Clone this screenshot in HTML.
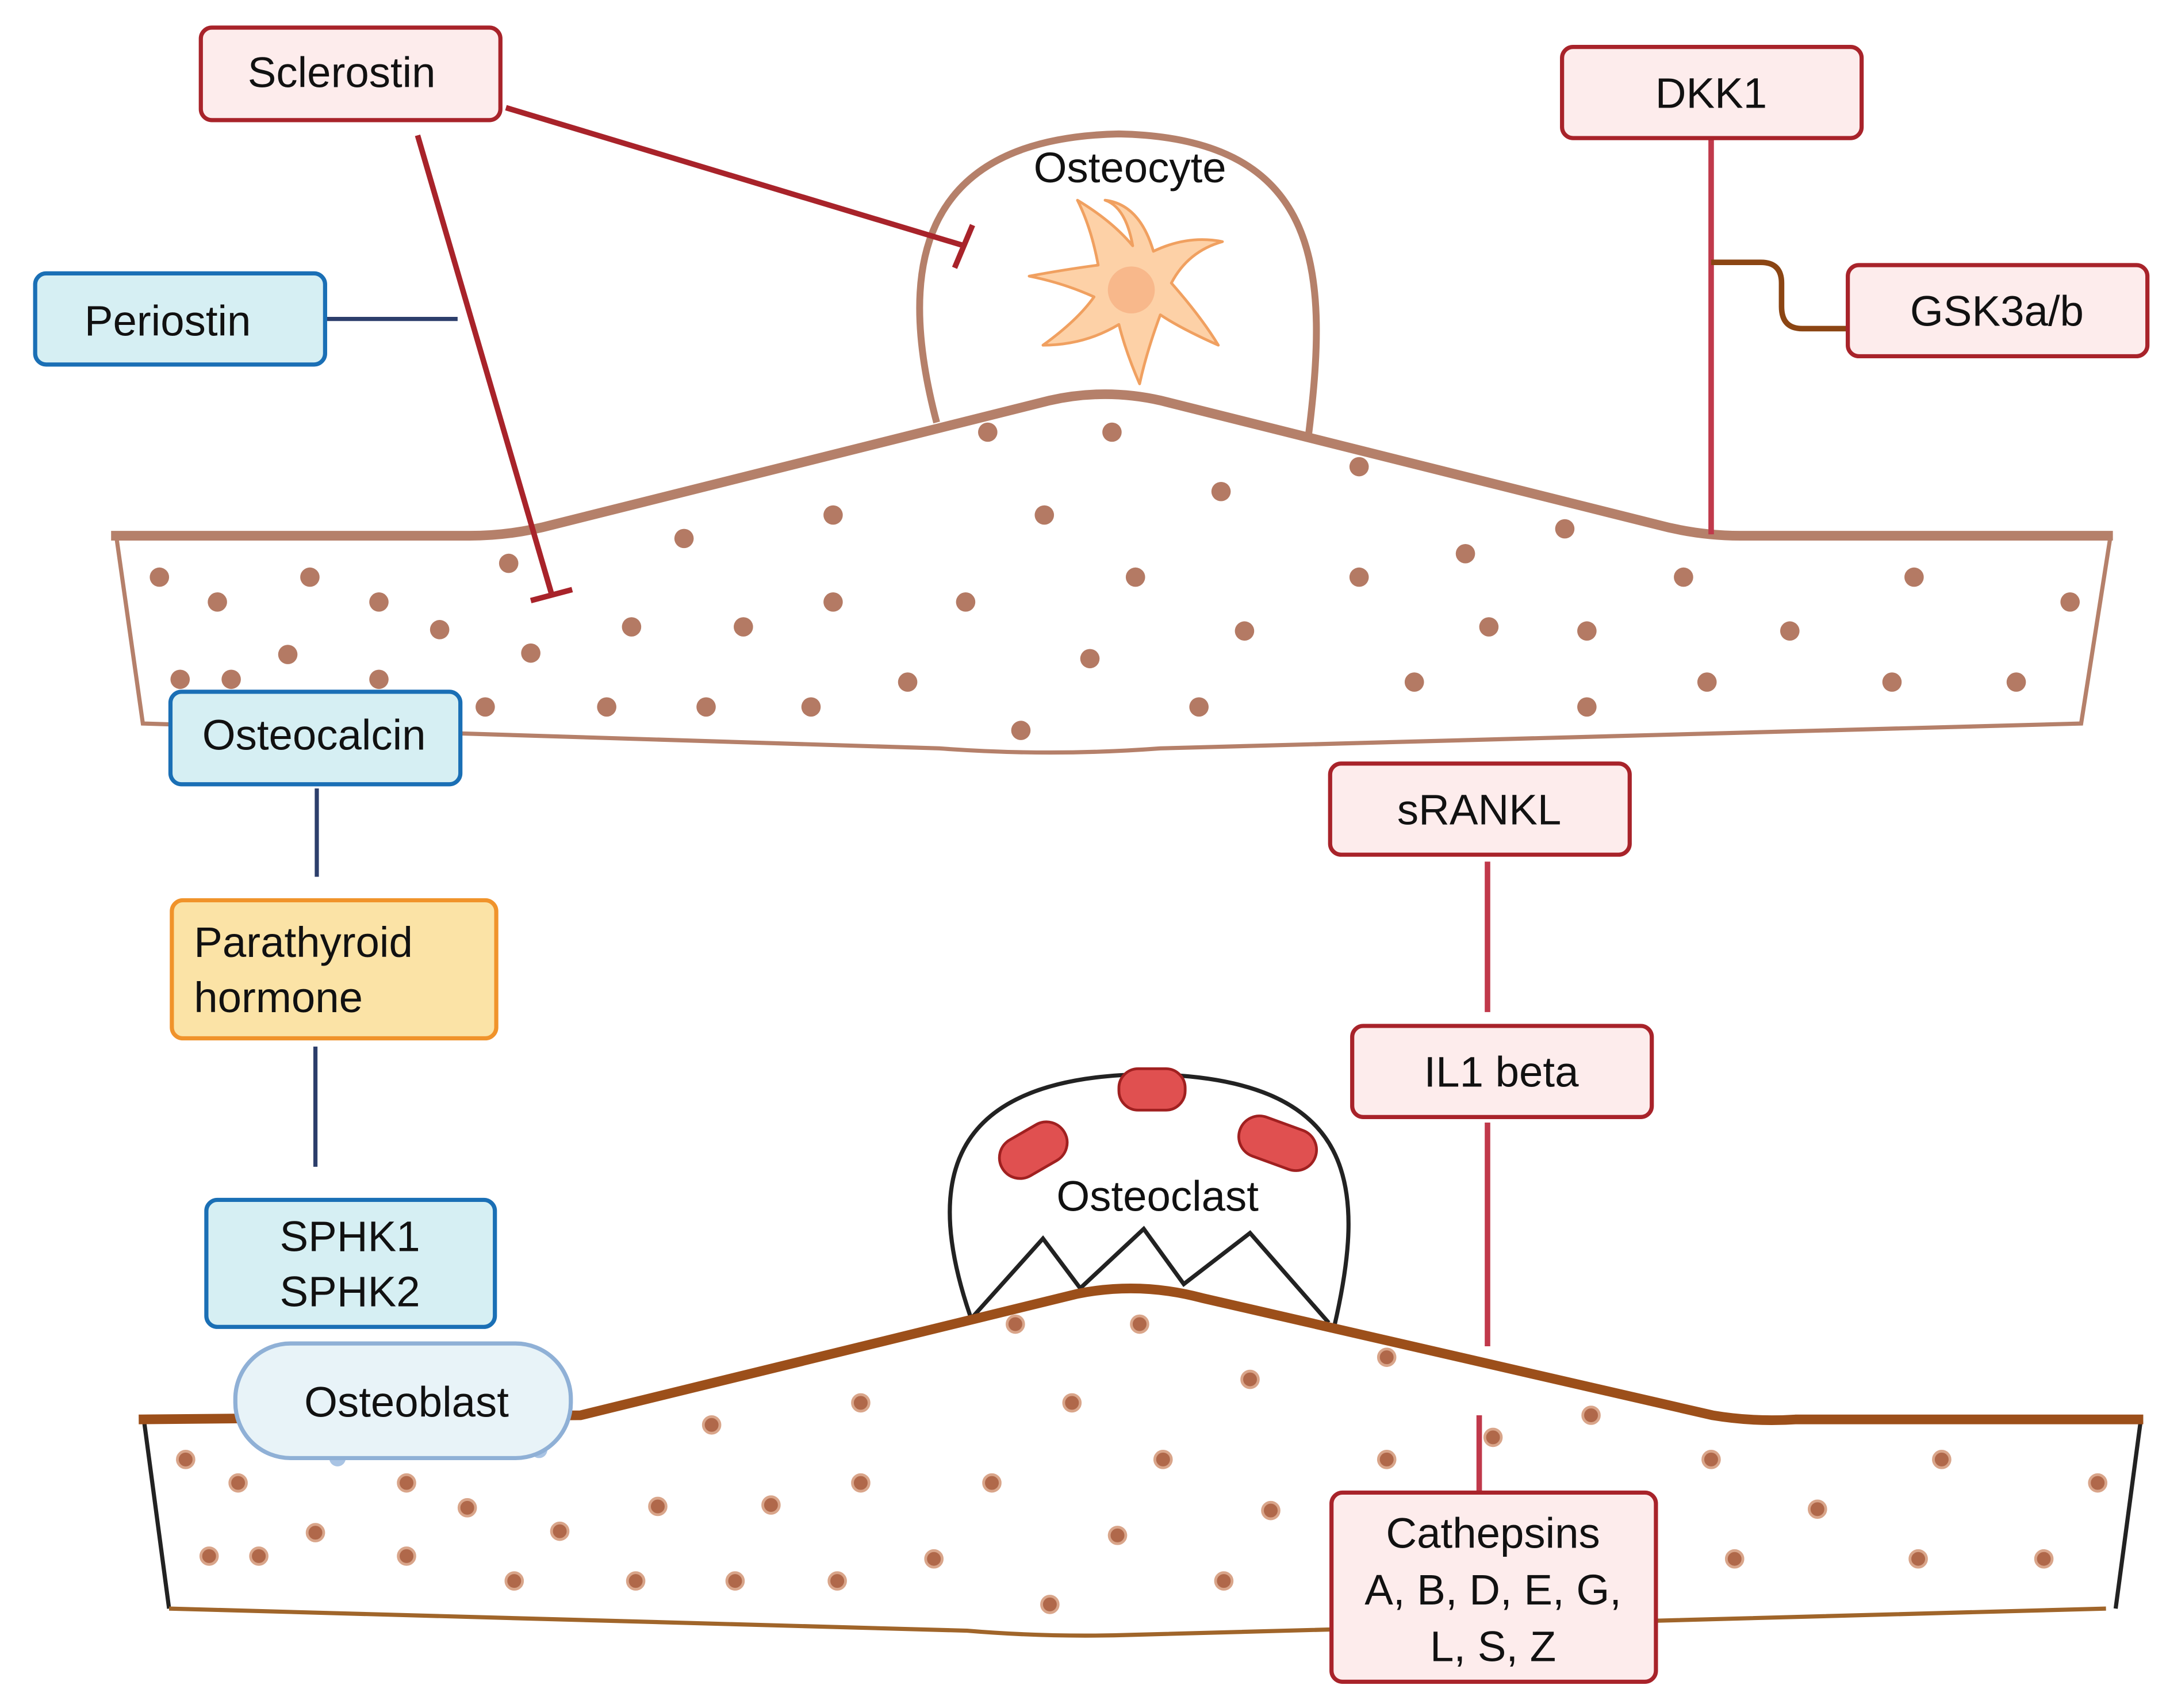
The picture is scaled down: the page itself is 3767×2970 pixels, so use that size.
<!DOCTYPE html>
<html><head><meta charset="utf-8"><style>
html,body{margin:0;padding:0;background:#fff;}
svg{display:block;}
text{font-family:"Liberation Sans",sans-serif;font-size:31px;fill:#111;}
</style></head><body>
<svg width="3767" height="2970" viewBox="0 0 1568 1237" xmlns="http://www.w3.org/2000/svg">
<rect width="1568" height="1237" fill="#fff"/>
<!-- Top bone -->
<path d="M84,390 L103,524 L680,542 Q760,548 840,542 L1507,524 L1528,390" fill="none" stroke="#b5806a" stroke-width="3"/>
<path d="M678,306 C650,200 660,100 810,97 C960,100 962,200 947,318" fill="#fff" stroke="#b5806a" stroke-width="5"/>
<path d="M80,388 L340,388 Q370,388 400,380 L760,290 Q800,281 840,290 L1200,380 Q1230,388 1260,388 L1530,388" fill="none" stroke="#b5806a" stroke-width="7"/>
<g fill="#b47a64">
<circle cx="115" cy="418" r="7"/><circle cx="157" cy="436" r="7"/><circle cx="224" cy="418" r="7"/><circle cx="274" cy="436" r="7"/><circle cx="318" cy="456" r="7"/><circle cx="368" cy="408" r="7"/><circle cx="384" cy="473" r="7"/><circle cx="130" cy="492" r="7"/><circle cx="167" cy="492" r="7"/><circle cx="208" cy="474" r="7"/><circle cx="274" cy="492" r="7"/><circle cx="351" cy="512" r="7"/><circle cx="439" cy="512" r="7"/><circle cx="511" cy="512" r="7"/><circle cx="587" cy="512" r="7"/><circle cx="457" cy="454" r="7"/><circle cx="538" cy="454" r="7"/><circle cx="603" cy="436" r="7"/><circle cx="603" cy="373" r="7"/><circle cx="495" cy="390" r="7"/><circle cx="657" cy="494" r="7"/><circle cx="699" cy="436" r="7"/><circle cx="715" cy="313" r="7"/><circle cx="805" cy="313" r="7"/><circle cx="756" cy="373" r="7"/><circle cx="822" cy="418" r="7"/><circle cx="789" cy="477" r="7"/><circle cx="739" cy="529" r="7"/><circle cx="868" cy="512" r="7"/><circle cx="884" cy="356" r="7"/><circle cx="901" cy="457" r="7"/><circle cx="984" cy="338" r="7"/><circle cx="984" cy="418" r="7"/><circle cx="1061" cy="401" r="7"/><circle cx="1024" cy="494" r="7"/><circle cx="1078" cy="454" r="7"/><circle cx="1133" cy="383" r="7"/><circle cx="1149" cy="457" r="7"/><circle cx="1149" cy="512" r="7"/><circle cx="1219" cy="418" r="7"/><circle cx="1236" cy="494" r="7"/><circle cx="1296" cy="457" r="7"/><circle cx="1370" cy="494" r="7"/><circle cx="1386" cy="418" r="7"/><circle cx="1460" cy="494" r="7"/><circle cx="1499" cy="436" r="7"/>
</g>
<!-- osteocyte cell -->
<path d="M820,178 Q815,150 800,145 Q825,148 835,182 Q860,170 885,175 Q860,182 848,205 Q870,230 882,250 Q855,238 840,228 Q830,255 825,278 Q815,255 810,235 Q785,250 755,250 Q780,232 792,215 Q770,205 745,200 Q772,195 795,192 Q790,165 780,145 Q805,160 820,178 Z" fill="#fdd1a7" stroke="#f0a060" stroke-width="2" stroke-linejoin="round"/>
<circle cx="819" cy="210" r="17" fill="#f8b88b"/>
<text x="818" y="132" text-anchor="middle">Osteocyte</text>

<!-- Bottom bone -->
<path d="M104,1030 L122,1165" stroke="#222" stroke-width="3"/>
<path d="M1550,1030 L1532,1165" stroke="#222" stroke-width="3"/>
<path d="M122,1165 L700,1181 Q760,1186 820,1184 L1525,1165" fill="none" stroke="#a0652a" stroke-width="3"/>
<path d="M703,955 C670,860 680,780 830,778 C985,780 990,860 965,965" fill="#fff" stroke="#222" stroke-width="3"/>
<path d="M703,955 L755,897 L782,933 L828,890 L857,930 L905,893 L962,958" fill="none" stroke="#222" stroke-width="3"/>
<rect x="810" y="774" width="48" height="30" rx="14" fill="#e05050" stroke="#a02020" stroke-width="2"/>
<rect x="722" y="818" width="52" height="30" rx="15" fill="#e05050" stroke="#a02020" stroke-width="2" transform="rotate(-30 748 833)"/>
<rect x="896" y="813" width="58" height="30" rx="15" fill="#e05050" stroke="#a02020" stroke-width="2" transform="rotate(20 925 828)"/>
<text x="838" y="877" text-anchor="middle">Osteoclast</text>
<path d="M100,1028 L420,1025 L780,937 Q825,928 870,940 L1240,1025 Q1270,1030 1300,1028 L1552,1028" fill="none" stroke="#9c4f1a" stroke-width="7"/>
<g fill="#b0684a" stroke="#d9a58a" stroke-width="2">
<circle cx="134" cy="1057" r="6"/><circle cx="172" cy="1074" r="6"/><circle cx="151" cy="1127" r="6"/><circle cx="187" cy="1127" r="6"/><circle cx="228" cy="1110" r="6"/><circle cx="294" cy="1074" r="6"/><circle cx="294" cy="1127" r="6"/><circle cx="338" cy="1092" r="6"/><circle cx="372" cy="1145" r="6"/><circle cx="405" cy="1109" r="6"/><circle cx="460" cy="1145" r="6"/><circle cx="476" cy="1091" r="6"/><circle cx="515" cy="1032" r="6"/><circle cx="532" cy="1145" r="6"/><circle cx="558" cy="1090" r="6"/><circle cx="606" cy="1145" r="6"/><circle cx="623" cy="1074" r="6"/><circle cx="623" cy="1016" r="6"/><circle cx="676" cy="1129" r="6"/><circle cx="718" cy="1074" r="6"/><circle cx="735" cy="959" r="6"/><circle cx="760" cy="1162" r="6"/><circle cx="776" cy="1016" r="6"/><circle cx="809" cy="1112" r="6"/><circle cx="825" cy="959" r="6"/><circle cx="842" cy="1057" r="6"/><circle cx="886" cy="1145" r="6"/><circle cx="905" cy="999" r="6"/><circle cx="920" cy="1094" r="6"/><circle cx="1004" cy="983" r="6"/><circle cx="1004" cy="1057" r="6"/><circle cx="1081" cy="1041" r="6"/><circle cx="1152" cy="1025" r="6"/><circle cx="1239" cy="1057" r="6"/><circle cx="1256" cy="1129" r="6"/><circle cx="1316" cy="1093" r="6"/><circle cx="1389" cy="1129" r="6"/><circle cx="1406" cy="1057" r="6"/><circle cx="1480" cy="1129" r="6"/><circle cx="1519" cy="1074" r="6"/>
</g>
<!-- osteoblast -->
<circle cx="244" cy="1056" r="6" fill="#a9c4e4"/><circle cx="390" cy="1050" r="6" fill="#a9c4e4"/>
<rect x="170" y="973" width="243" height="83" rx="40" fill="#e8f3f8" stroke="#8fb0d6" stroke-width="3"/>
<text x="294" y="1026" text-anchor="middle">Osteoblast</text>

<!-- connectors -->
<g stroke="#a8232a" stroke-width="4" fill="none">
<path d="M366,78 L698,178"/><path d="M691,194 L704,163"/>
<path d="M302,98 L399,430"/><path d="M384,435 L414,427"/>
</g>
<g stroke="#2c3e6b" stroke-width="3">
<path d="M235,231 L331,231"/><path d="M229,571 L229,635"/><path d="M228,758 L228,845"/>
</g>
<g stroke="#c0394b" stroke-width="4" fill="none">
<path d="M1239,100 L1239,387"/>
<path d="M1077,624 L1077,733"/><path d="M1077,813 L1077,975"/><path d="M1071,1025 L1071,1081"/>
</g>
<path d="M1239,190 L1275,190 Q1290,190 1290,205 L1290,222 Q1290,238 1305,238 L1338,238" fill="none" stroke="#8b4513" stroke-width="4"/>

<!-- boxes -->
<g stroke-width="3">
<rect x="145" y="20" width="217" height="67" rx="8" fill="#fdecec" stroke="#a8232a"/>
<rect x="1131" y="34" width="217" height="66" rx="8" fill="#fdecec" stroke="#a8232a"/>
<rect x="1338" y="192" width="217" height="66" rx="8" fill="#fdecec" stroke="#a8232a"/>
<rect x="963" y="553" width="217" height="66" rx="8" fill="#fdecec" stroke="#a8232a"/>
<rect x="979" y="743" width="217" height="66" rx="8" fill="#fdecec" stroke="#a8232a"/>
<rect x="964" y="1081" width="235" height="137" rx="8" fill="#fdecec" stroke="#a8232a"/>
<rect x="25" y="198" width="210" height="66" rx="8" fill="#d6eff3" stroke="#1a6fb5"/>
<rect x="123" y="501" width="210" height="67" rx="8" fill="#d6eff3" stroke="#1a6fb5"/>
<rect x="149" y="869" width="209" height="92" rx="8" fill="#d6eff3" stroke="#1a6fb5"/>
<rect x="124" y="652" width="235" height="100" rx="8" fill="#fbe3a6" stroke="#f0932b"/>
</g>
<text x="247" y="63" text-anchor="middle">Sclerostin</text>
<text x="1239" y="78" text-anchor="middle">DKK1</text>
<text x="1446" y="236" text-anchor="middle">GSK3a/b</text>
<text x="1071" y="597" text-anchor="middle">sRANKL</text>
<text x="1087" y="787" text-anchor="middle">IL1 beta</text>
<text x="1081" y="1121" text-anchor="middle">Cathepsins</text>
<text x="1081" y="1162" text-anchor="middle">A, B, D, E, G,</text>
<text x="1081" y="1203" text-anchor="middle">L, S, Z</text>
<text x="121" y="243" text-anchor="middle">Periostin</text>
<text x="227" y="543" text-anchor="middle">Osteocalcin</text>
<text x="140" y="693">Parathyroid</text>
<text x="140" y="733">hormone</text>
<text x="253" y="906" text-anchor="middle">SPHK1</text>
<text x="253" y="946" text-anchor="middle">SPHK2</text>
</svg>
</body></html>
